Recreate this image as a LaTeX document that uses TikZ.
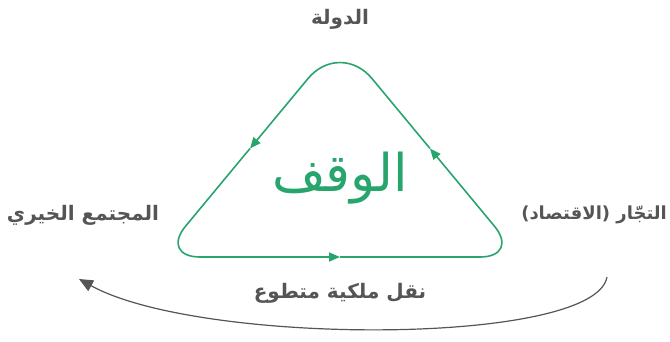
\documentclass[tikz,border=0pt]{standalone}
\usepackage{fontspec}
\usetikzlibrary{arrows.meta}
\newfontfamily\arabicfont[Script=Arabic]{DejaVu Sans}
\TeXXeTstate=1
\definecolor{waqfgreen}{HTML}{27A56D}
\definecolor{textgray}{HTML}{555555}
\tikzset{
  cycleline/.style={draw=waqfgreen, line width=1.6pt, rounded corners=40pt,
    -{Triangle[length=11pt,width=9pt]}},
  sidelabel/.style={text=textgray, font=\arabicfont\bfseries\fontsize{20}{24}\selectfont},
  biglabel/.style={text=waqfgreen, font=\arabicfont\fontsize{52}{60}\selectfont}
}
\begin{document}
\begin{tikzpicture}[x=1pt, y=1pt]
  \useasboundingbox (0,0) rectangle (670,341);
  % corners of the cycle
  \coordinate (top) at (340,301);
  \coordinate (bl) at (160,84);
  \coordinate (br) at (520,84);
  \coordinate (mbottom) at (340,84);
  \coordinate (mright) at (430,192.5);
  \coordinate (mleft) at (250,192.5);
  \draw[cycleline] (mbottom) -- (br) -- (mright);
  \draw[cycleline, rounded corners=50pt] (mright) -- (top) -- (mleft);
  \draw[cycleline] (mleft) -- (bl) -- (mbottom);
  % labels
  \node[biglabel] (waqf) at (340,163) {\beginR الوقف\endR};
  \node[sidelabel] (state) at (340,322) {\beginR الدولة\endR};
  \node[sidelabel] (community) at (83,126) {\beginR المجتمع الخيري\endR};
  \node[sidelabel, font=\arabicfont\bfseries\fontsize{18}{22}\selectfont,
    anchor=east, inner sep=1pt] (traders) at (668,126) {\beginR التجّار (الاقتصاد)\endR};
  \node[sidelabel] (transfer) at (340,48) {\beginR نقل ملكية متطوع\endR};
  % transfer arrow
  \coordinate (src) at (607,64);
  \coordinate (dst) at (79,62);
  \draw[textgray, line width=1.2pt, -{Triangle[length=14pt,width=12pt]}]
    (src) .. controls (595,-5) and (200,-5) .. (dst);
\end{tikzpicture}
\end{document}
